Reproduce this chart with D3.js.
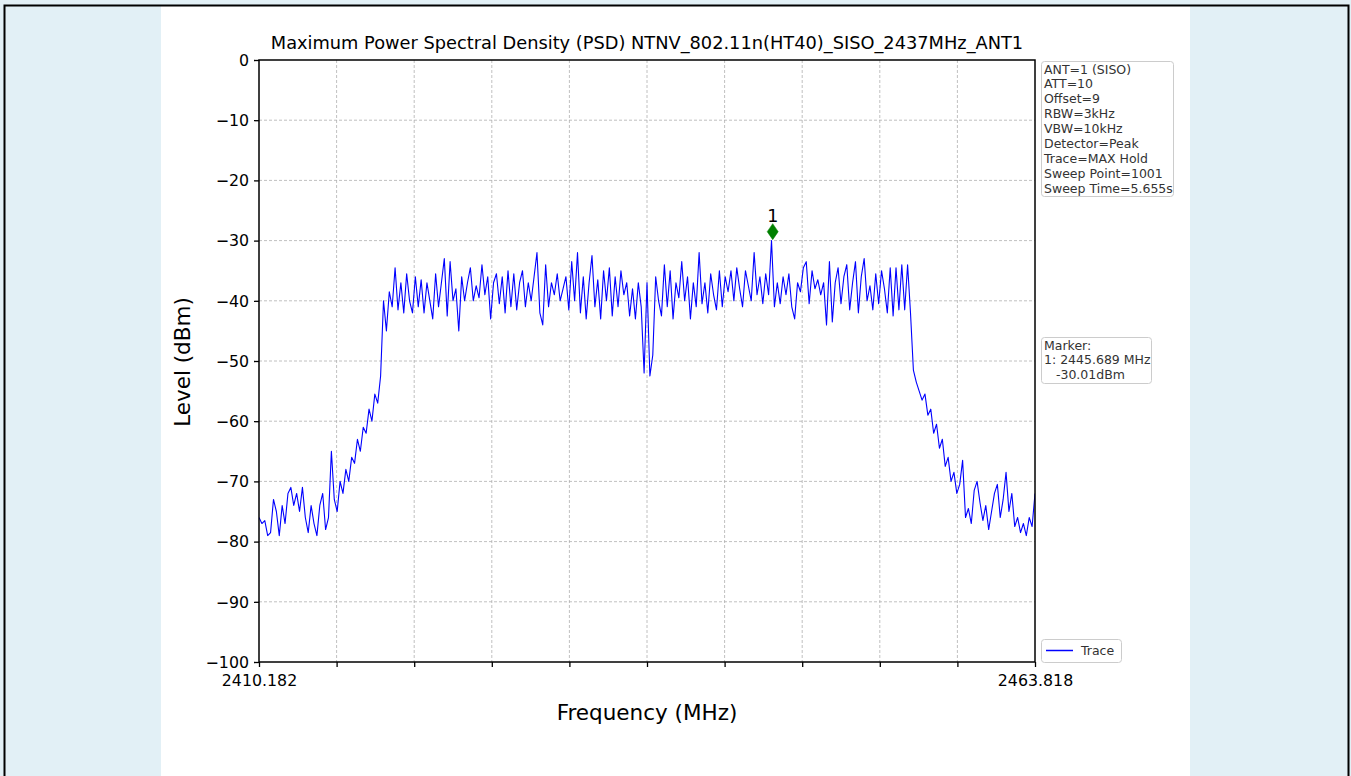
<!DOCTYPE html>
<html>
<head>
<meta charset="utf-8">
<script src="https://cdn.jsdelivr.net/npm/d3@7/dist/d3.min.js"></script>
<style>
  html, body { margin: 0; padding: 0; background: #e2f0f6; }
  svg { display: block; font-family: "DejaVu Sans", sans-serif; }
</style>
</head>
<body>
<svg id="chart" width="1351" height="776"></svg>
<script>
// ---------- data ----------
const chartTitle = "Maximum Power Spectral Density (PSD) NTNV_802.11n(HT40)_SISO_2437MHz_ANT1";
const startFreq = 2410.182;
const stopFreq = 2463.818;
const xTickLabels = ["2410.182", "", "", "", "", "", "", "", "", "", "2463.818"];
const yTicks = [0, -10, -20, -30, -40, -50, -60, -70, -80, -90, -100];
const infoLines = ["ANT=1 (SISO)", "ATT=10", "Offset=9", "RBW=3kHz", "VBW=10kHz",
  "Detector=Peak", "Trace=MAX Hold", "Sweep Point=1001", "Sweep Time=5.655s"];
const markerLines = ["Marker:", "1: 2445.689 MHz", "   -30.01dBm"];
const markerFreq = 2445.689;
const markerLevel = -30.01;
const markerLabel = "1";
const legendLabel = "Trace";
// trace levels (dBm) on a uniform sweep grid
const levels = [
  -76, -77, -76.5, -79, -78.5, -73, -75, -79, -74, -77,
  -72, -71, -74, -72, -75, -71, -76, -78.5, -74, -77,
  -79, -74, -72, -78, -76, -65, -73, -75, -70, -72,
  -68, -70, -66, -67, -63, -65, -61, -62, -58, -60,
  -55.5, -57, -52.5, -40, -45, -38.5, -41, -34.5, -41.5, -37,
  -42, -35.5, -40, -42, -36, -41, -36.5, -42, -37, -40,
  -43, -35.5, -41, -37, -33, -42.5, -33.5, -40, -38, -45,
  -36, -40, -37, -34.5, -40, -37.5, -39.5, -34, -39, -36,
  -43, -37, -35.5, -40.5, -36, -42, -35, -41, -35.5, -41.5,
  -37, -35, -41, -37, -40, -36, -32, -42, -44, -34,
  -41, -37, -39, -35.5, -40, -38, -36, -41.5, -33.5, -40,
  -32, -42, -36, -43, -37, -32.5, -41, -36.5, -43, -35,
  -40, -34.5, -42.5, -36, -41, -35, -39, -37, -42.5, -38,
  -43, -37, -41, -52, -37, -52.5, -49, -36, -40, -42.5,
  -34, -41, -35, -43, -37, -39.5, -33.5, -40, -36, -43,
  -37, -41, -32, -40.5, -37, -42, -35.5, -39, -41.5, -35,
  -41, -36, -38.5, -35, -40, -34.5, -38, -41, -35, -37.5,
  -40, -32, -39, -36, -40.5, -35.5, -39, -30, -41, -37,
  -40.5, -36, -39, -35.5, -41, -43, -37, -38.5, -34.5, -33.5,
  -40.5, -35, -38, -36.5, -39, -37, -44, -33.5, -43.5, -37,
  -34.5, -40.5, -36, -34, -41.5, -37, -33.5, -42, -36, -33,
  -40, -37.5, -41.5, -35.5, -40.5, -35, -38, -42, -34.5, -42.5,
  -34.5, -41.5, -34, -41.5, -34, -42, -51.5, -53.5, -55, -56.5,
  -55.5, -59, -58, -62, -60.5, -64.5, -63, -67.5, -66, -70,
  -68.5, -72, -70.5, -66.5, -76, -74.5, -77, -71.5, -70, -73.5,
  -76.5, -74, -78, -75, -72, -70.5, -76, -73, -68.5, -75,
  -72, -77.5, -76, -78.5, -77, -79, -76, -77.5, -72
];

// ---------- layout ----------
const svg = d3.select("#chart");
const W = 1351, H = 776;
const plot = { left: 259, right: 1035, top: 60, bottom: 662 };

// background panels
svg.append("rect").attr("x", 0).attr("y", 0).attr("width", W).attr("height", H).attr("fill", "#e2f0f6");
svg.append("rect").attr("x", 161).attr("y", 6).attr("width", 1029).attr("height", H).attr("fill", "#ffffff");
svg.append("rect").attr("x", 4.5).attr("y", 5.5).attr("width", 1344).attr("height", 800)
  .attr("fill", "none").attr("stroke", "#000").attr("stroke-width", 2);

const x = d3.scaleLinear().domain([startFreq, stopFreq]).range([plot.left, plot.right]);
const y = d3.scaleLinear().domain([-100, 0]).range([plot.bottom, plot.top]);
const step = (stopFreq - startFreq) / (levels.length - 1);
const trace = levels.map((v, i) => ({ f: startFreq + i * step, v }));
const xTickVals = xTickLabels.map((_, i) => startFreq + i * (stopFreq - startFreq) / (xTickLabels.length - 1));

// grid
const grid = svg.append("g");
grid.selectAll(".gx").data(xTickVals.slice(1, -1)).join("line")
  .attr("x1", d => x(d)).attr("x2", d => x(d)).attr("y1", plot.top).attr("y2", plot.bottom)
  .attr("stroke", "#b0b0b0").attr("stroke-width", 0.8).attr("stroke-dasharray", "3,2");
grid.selectAll(".gy").data(yTicks.slice(1, -1)).join("line")
  .attr("x1", plot.left).attr("x2", plot.right).attr("y1", d => y(d)).attr("y2", d => y(d))
  .attr("stroke", "#b0b0b0").attr("stroke-width", 0.8).attr("stroke-dasharray", "3,2");

// trace
svg.append("clipPath").attr("id", "clip").append("rect")
  .attr("x", plot.left).attr("y", plot.top).attr("width", plot.right - plot.left).attr("height", plot.bottom - plot.top);
svg.append("path").datum(trace)
  .attr("clip-path", "url(#clip)")
  .attr("fill", "none").attr("stroke", "#0000ff").attr("stroke-width", 1.1).attr("stroke-linejoin", "round")
  .attr("d", d3.line().x(d => x(d.f)).y(d => y(d.v)));

// axes
const xAxis = d3.axisBottom(x).tickValues(xTickVals).tickSize(5).tickPadding(5)
  .tickFormat((d, i) => xTickLabels[i]);
const gx = svg.append("g").attr("transform", `translate(0,${plot.bottom})`).call(xAxis);
const yAxis = d3.axisLeft(y).tickValues(yTicks).tickSize(5).tickPadding(5)
  .tickFormat(d => d < 0 ? "\u2212" + Math.abs(d) : String(d));
const gy = svg.append("g").attr("transform", `translate(${plot.left},0)`).call(yAxis);
[gx, gy].forEach(g => {
  g.select(".domain").remove();
  g.selectAll(".tick line").attr("stroke", "#000").attr("stroke-width", 1.3);
  g.selectAll(".tick text").attr("fill", "#000").style("font-size", "15.8px").style("font-family", "DejaVu Sans");
});
gx.selectAll(".tick text").attr("dy", "0.9em");
gy.selectAll(".tick text").attr("dy", "0.34em");

// frame
svg.append("rect").attr("x", plot.left).attr("y", plot.top)
  .attr("width", plot.right - plot.left).attr("height", plot.bottom - plot.top)
  .attr("fill", "none").attr("stroke", "#000").attr("stroke-width", 1.5);

// title & labels
svg.append("text").attr("x", (plot.left + plot.right) / 2).attr("y", 49).attr("text-anchor", "middle")
  .style("font-size", "17.8px").attr("fill", "#000").text(chartTitle);
svg.append("text").attr("x", (plot.left + plot.right) / 2).attr("y", 720).attr("text-anchor", "middle")
  .style("font-size", "21.5px").attr("fill", "#000").text("Frequency (MHz)");
svg.append("text").attr("transform", `translate(190,${(plot.top + plot.bottom) / 2 + 1}) rotate(-90)`)
  .attr("text-anchor", "middle").style("font-size", "21.5px").attr("fill", "#000").text("Level (dBm)");

// marker
const mx = x(markerFreq), my = y(markerLevel);
svg.append("path").attr("d", `M${mx},${my - 17} L${mx + 5.5},${my - 9} L${mx},${my - 1} L${mx - 5.5},${my - 9} Z`)
  .attr("fill", "#008000").attr("stroke", "#008000").attr("stroke-width", 0.5);
svg.append("text").attr("x", mx).attr("y", my - 19).attr("text-anchor", "middle")
  .style("font-size", "17.5px").attr("fill", "#000").text(markerLabel);

// info boxes
function infoBox(lines, bx, by, bw, bh) {
  const g = svg.append("g");
  g.append("rect").attr("x", bx).attr("y", by).attr("width", bw).attr("height", bh)
    .attr("rx", 3).attr("fill", "#fff").attr("stroke", "#cccccc").attr("stroke-width", 1);
  g.selectAll("text").data(lines).join("text")
    .attr("x", bx + 2.5).attr("y", (d, i) => by + 12 + i * 14.9)
    .style("font-size", "12.5px").style("white-space", "pre").attr("fill", "#333")
    .attr("xml:space", "preserve").text(d => d);
}
infoBox(infoLines, 1041.5, 61.5, 132, 135);
infoBox(markerLines, 1041.5, 337.5, 110, 46);

// legend
const lg = svg.append("g");
lg.append("rect").attr("x", 1041.5).attr("y", 639.5).attr("width", 80).attr("height", 23)
  .attr("rx", 3).attr("fill", "#fff").attr("stroke", "#cccccc");
lg.append("line").attr("x1", 1046).attr("x2", 1073).attr("y1", 650.5).attr("y2", 650.5)
  .attr("stroke", "#0000ff").attr("stroke-width", 1.5);
lg.append("text").attr("x", 1081).attr("y", 655).style("font-size", "12.5px").attr("fill", "#333").text(legendLabel);
</script>
</body>
</html>
